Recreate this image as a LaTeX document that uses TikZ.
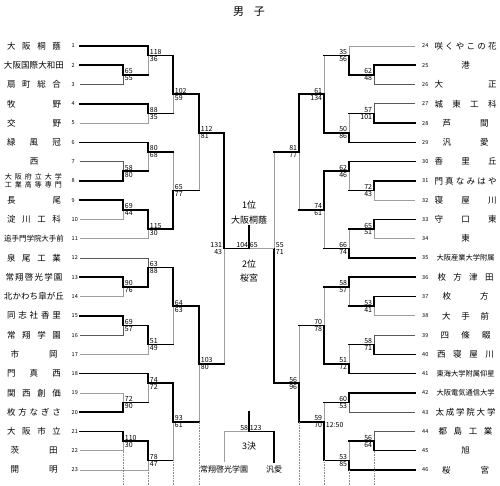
\documentclass[tikz,border=0pt]{standalone}
\usepackage{fontspec}
\setmainfont{Noto Sans CJK JP}
\usepackage{graphicx}
\usepackage{tikz}

% spread a name over a fixed width, one glyph per step
\newsavebox\namebox
\newcommand\spreadloop[2]{#1\ifx\relax#2\else\hfil\expandafter\spreadloop\expandafter#2\fi}
\newcommand\teamname[2]{%
  \sbox\namebox{#2}%
  \ifdim\wd\namebox<#1\relax
    \makebox[#1][s]{\hskip0pt plus1pt\expandafter\spreadloop#2\relax\hskip0pt plus1pt}%
  \else
    \resizebox{#1}{!}{\usebox\namebox}%
  \fi}

\tikzset{
  win/.style={line width=1.6pt, line cap=rect},
  lose/.style={line width=0.7pt, black!38},
  lose2/.style={line width=0.7pt, black!65},
  dotline/.style={line width=0.6pt, black!45, densely dotted},
  score/.style={font=\fontsize{7}{7}\selectfont, inner sep=0.7pt},
  seed/.style={font=\fontsize{5.5}{6}\selectfont, inner sep=0pt, anchor=west},
  team/.style={font=\fontsize{8.5}{10}\selectfont, inner sep=0pt},
  centertext/.style={font=\fontsize{9}{10}\selectfont, inner sep=1pt}
}

\begin{document}
\begin{tikzpicture}[x=1pt, y=-19.27pt]
\useasboundingbox (0,-1.387) rectangle (500,23.833);
\coordinate (bot) at (0,23.833);

\node[font=\fontsize{11}{12}\selectfont] (title) at (249,-0.79) {男\hspace{0.9em}子};

% left teams
\foreach \i in {1,...,23} {
  \node[seed] (sn\i) at (71.5,\i) {\i};
  \coordinate (e\i) at (80,\i);
}
\foreach \i/\w/\t in {1/54/大阪桐蔭, 2/60/大阪国際大和田, 3/54/扇町総合, 4/54/牧野,
    5/54/交野, 6/54/緑風冠, 7/54/西, 9/54/長尾, 10/54/淀川工科, 11/60/追手門学院大手前,
    12/54/泉尾工業, 13/57/常翔啓光学園, 14/60/北かわち皐が丘, 15/54/同志社香里,
    16/54/常翔学園, 17/47/市岡, 18/54/門真西, 19/54/関西創価, 20/54/枚方なぎさ,
    21/54/大阪市立, 22/47/茨田, 23/47/開明}
  \node[team] (tn\i) at (34,\i) {\teamname{\w pt}{\t}};
\node[team, font=\fontsize{7}{8.3}\selectfont, align=center] (tn8) at (33.5,8)
  {\teamname{57pt}{大阪府立大学}\\\teamname{57pt}{工業高等専門}};

% right teams
\foreach \i in {24,...,46} {
  \node[seed] (sn\i) at (422,{\i-23}) {\i};
  \coordinate (e\i) at (415,{\i-23});
}
\foreach \i/\w/\t in {24/62/咲くやこの花, 25/62/港, 26/62/大正, 27/62/城東工科,
    28/46/芦間, 29/46/汎愛, 30/62/香里丘, 31/62/門真なみはや, 32/62/寝屋川,
    33/62/守口東, 34/62/東, 35/58/大阪産業大学附属, 36/56/枚方津田, 37/46/枚方,
    38/47/大手前, 39/50/四條畷, 40/57/西寝屋川, 41/58/東海大学附属仰星,
    42/58/大阪電気通信大学, 43/60/太成学院大学, 44/54/都島工業, 45/62/旭, 46/47/桜宮}
  \node[team] (tn\i) at (465.5,{\i-23}) {\teamname{\w pt}{\t}};

% match points
\foreach \m/\x/\r in {LA/123/2.5, LB/148/1.5, LC/148/4.5, LD/173/3.5, LE/123/7.5,
    LF/148/6.5, LG/123/9.5, LH/148/10.5, LI/173/8.5, LJ/199/5.5, LK/123/13.5,
    LL/148/12.5, LM/123/15.5, LN/148/16.5, LO/173/14.5, LQ/123/19.5, LP/148/18.5,
    LR/123/21.5, LS/148/22.5, LT/173/20.5, LU/199/17.5, LV/224/11.5,
    RA/374/2.5, RB/349/1.5, RC/374/4.5, RD/349/5.5, RE/324/3.5, RG/374/8.5,
    RF/349/7.5, RH/374/10.5, RI/349/11.5, RJ/324/9.5, RK/299/6.5, RL/374/14.5,
    RM/349/13.5, RN/374/16.5, RO/349/17.5, RP/324/15.5, RQ/349/19.5, RR/374/21.5,
    RS/349/22.5, RT/324/20.5, RU/299/18.5, RV/274/11.5}
  \coordinate (\m) at (\x,\r);
\coordinate (fin) at (249,11.5);

% team lines into first match
\foreach \i/\m/\s in {1/LB/win, 2/LA/win, 3/LA/lose2, 4/LC/win, 5/LC/lose, 6/LF/win,
    7/LE/lose2, 8/LE/win, 9/LG/win, 10/LG/lose, 11/LH/lose, 12/LL/lose2, 13/LK/win,
    14/LK/lose, 15/LM/win, 16/LM/lose2, 17/LN/lose, 18/LP/win, 19/LQ/lose, 20/LQ/win,
    21/LR/win, 22/LR/lose, 23/LS/lose,
    24/RB/lose, 25/RA/win, 26/RA/lose2, 27/RC/lose2, 28/RC/win, 29/RD/win, 30/RF/win,
    31/RG/win, 32/RG/lose, 33/RH/win, 34/RH/lose, 35/RI/win, 36/RM/win, 37/RL/win,
    38/RL/lose, 39/RN/lose2, 40/RN/win, 41/RO/win, 42/RQ/win, 43/RQ/lose2,
    44/RR/lose2, 45/RR/win, 46/RS/win}
  \draw[\s] (e\i) -| (\m);

% winner of each match into the next one
\foreach \m/\p/\s in {LA/LB/lose, LB/LD/win, LC/LD/lose, LD/LJ/win, LE/LF/lose,
    LF/LI/lose, LG/LH/win, LH/LI/win, LI/LJ/lose, LJ/LV/win, LK/LL/win, LL/LO/win,
    LM/LN/win, LN/LO/lose, LO/LU/win, LQ/LP/lose, LP/LT/win, LR/LS/win, LS/LT/lose,
    LT/LU/lose, LU/LV/lose,
    RA/RB/win, RB/RE/lose, RC/RD/lose, RD/RE/win, RE/RK/win, RG/RF/lose, RF/RJ/win,
    RH/RI/lose, RI/RJ/lose, RJ/RK/lose, RK/RV/lose, RL/RM/lose, RM/RP/lose,
    RN/RO/lose, RO/RP/win, RP/RU/lose, RQ/RT/lose, RR/RS/lose, RS/RT/win,
    RT/RU/win, RU/RV/win} {
  \draw[\s] (\m -| \p) -- (\p);
  \draw[win] (\m) -- (\m -| \p);
}

% dotted guides at the foot
\foreach \a/\m in {e22/LR, e23/LS, LS/LT, LT/LU, e45/RR, e46/RS, RS/RT, RT/RU}
  \draw[dotline] (\a -| \m) -- (bot -| \m);

% scores
\foreach \m/\a/\b in {LA/65/55, LB/118/36, LC/88/35, LD/102/59, LE/58/80, LF/80/68,
    LG/69/44, LH/115/30, LI/65/77, LJ/112/81, LK/90/76, LL/63/88, LM/69/57,
    LN/51/49, LO/64/63, LP/74/72, LQ/72/90, LR/110/30, LS/78/47, LT/93/61,
    LU/103/80, RV/55/71} {
  \node[score, anchor=south west] (\m-a) at ([xshift=1pt]\m) {\a};
  \node[score, anchor=north west] (\m-b) at ([xshift=1pt]\m) {\b};
}
\foreach \m/\a/\b in {RA/62/48, RB/35/56, RC/57/101, RD/50/86, RE/61/134, RF/62/46,
    RG/72/43, RH/65/51, RI/66/74, RJ/74/61, RK/81/77, RL/53/41, RM/58/57,
    RN/58/71, RO/51/72, RP/70/78, RQ/60/53, RR/56/64, RS/53/85, RT/59/70,
    RU/56/96, LV/131/43} {
  \node[score, anchor=south east] (\m-a) at ([xshift=-1pt]\m) {\a};
  \node[score, anchor=north east] (\m-b) at ([xshift=-1pt]\m) {\b};
}
\node[score, anchor=north west] (time) at ([xshift=1pt]RT) {12:50};

% final
\node[centertext] (first) at (249,9.25) {1位};
\node[centertext] (champ) at (249,10.03) {大阪桐蔭};
\node[centertext] (second) at (249,12.31) {2位};
\node[centertext] (runner) at (249,13.04) {桜宮};
\draw[lose] (RV) -- (fin);
\draw[win] (LV) -- (fin);
\draw[win] (fin) -- (champ.south);
\node[score, anchor=south east] (fin-a) at (fin) {104};
\node[score, anchor=south west] (fin-b) at (fin) {65};

% third place
\coordinate (third) at (249,21);
\coordinate (thtop) at (249,20);
\node[centertext, font=\fontsize{8}{9}\selectfont] (thl) at (224,23) {常翔啓光学園};
\node[centertext, font=\fontsize{8}{9}\selectfont] (thr) at (274,23) {汎愛};
\node[centertext] (thname) at (249,21.74) {3決};
\draw[lose, shorten <=3pt] (thl.north) |- (third);
\draw[win, shorten <=3pt] (thr.north) |- (third);
\draw[win] (thtop) -- (third);
\node[score, anchor=south east] (third-a) at (third) {58};
\node[score, anchor=south west] (third-b) at (third) {123};
\end{tikzpicture}
\end{document}
